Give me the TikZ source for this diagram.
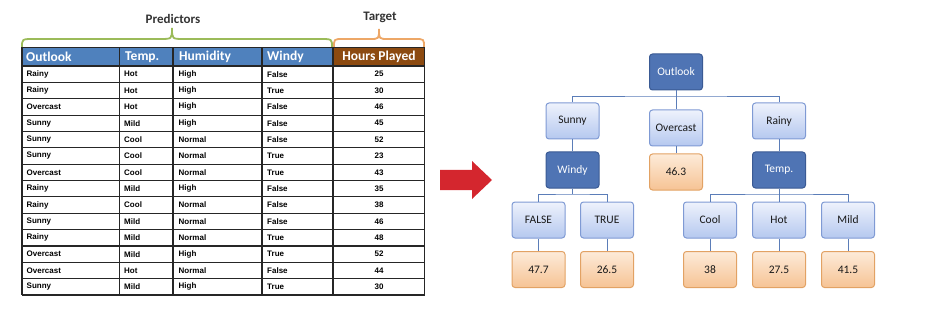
\documentclass[tikz,border=0pt]{standalone}
\usepackage{fontspec}
\setmainfont{Liberation Sans}
\newfontfamily\calib{Carlito}
\usetikzlibrary{positioning}
\definecolor{hdrblue}{HTML}{4F81BD}
\definecolor{hdrbrown}{HTML}{8C4A10}
\definecolor{predgreen}{HTML}{9BBB59}
\definecolor{targorange}{HTML}{EDA767}
\definecolor{darkfill}{HTML}{4F74B4}
\definecolor{darkborder}{HTML}{3A5A94}
\definecolor{lighttop}{HTML}{EEF2FC}
\definecolor{lightbot}{HTML}{B5C8EF}
\definecolor{lightborder}{HTML}{7F9AD4}
\definecolor{oratop}{HTML}{FDEBD9}
\definecolor{orabot}{HTML}{F6C394}
\definecolor{oraborder}{HTML}{E2A264}
\definecolor{linkblue}{HTML}{5B7DB8}
\definecolor{arrowred}{HTML}{D4262E}
\tikzset{
  treebox/.style={rounded corners=3pt, minimum width=53pt, minimum height=36pt, inner sep=0pt, font=\calib\fontsize{11.5}{13}\selectfont, line width=1pt},
  darknode/.style={treebox, fill=darkfill, draw=darkborder, text=white},
  lightnode/.style={treebox, top color=lighttop, bottom color=lightbot, draw=lightborder, text=black!90},
  leafnode/.style={treebox, top color=oratop, bottom color=orabot, draw=oraborder, text=black!90},
  link/.style={draw=linkblue, line width=0.9pt},
  hdrtext/.style={anchor=west, inner sep=0pt, text=white, font=\calib\bfseries\fontsize{13.5}{14}\selectfont},
  celltext/.style={anchor=west, inner sep=0pt, font=\bfseries\fontsize{8}{9}\selectfont},
  numtext/.style={inner sep=0pt, font=\bfseries\fontsize{8}{9}\selectfont},
  bracelabel/.style={inner sep=0pt, text=black!80, font=\calib\bfseries\fontsize{13}{14}\selectfont},
  grid/.style={draw=black!85, line width=1.1pt}
}
\begin{document}
\begin{tikzpicture}[x=1pt,y=-1pt]
\useasboundingbox (0,0) rectangle (936,315);
% ---------- braces and labels ----------
\node[bracelabel] (predlab) at (173,19) {Predictors};
\node[bracelabel] (targlab) at (380,17) {Target};
\draw[predgreen, line width=1.8pt] (22,47) .. controls (22,39) .. (34,39) -- (160,39) .. controls (172,39) .. (172,28) .. controls (172,39) .. (184,39) -- (320,39) .. controls (332,39) .. (332,47);
\draw[targorange, line width=1.8pt] (334,47) .. controls (334,39) .. (343,39) -- (370,39) .. controls (379,39) .. (379,29) .. controls (379,39) .. (388,39) -- (415,39) .. controls (424,39) .. (424,47);
% ---------- table header ----------
\fill[hdrblue] (22,47.5) rectangle (333,66);
\fill[hdrbrown] (333,47.5) rectangle (424.5,66);
\node[hdrtext] (h1) at (26,57) {Outlook};
\node[hdrtext] (h2) at (125,57) {Temp.};
\node[hdrtext] (h3) at (179,57) {Humidity};
\node[hdrtext] (h4) at (267,57) {Windy};
\node[hdrtext, anchor=center] (h5) at (379,57) {Hours Played};
% ---------- table grid ----------
\foreach \xx in {22,119.5,173,262,333,424.5} {
  \draw[grid] (\xx,47.5) -- (\xx,295);
}
\draw[grid] (22,47.5) -- (424.5,47.5);
\foreach \r in {0,...,14} {
  \draw[grid] (22,66+16.36*\r) -- (424.5,66+16.36*\r);
}
% ---------- table data ----------
\foreach \o/\t/\h/\w/\n [count=\r from 0] in {
  Rainy/Hot/High/False/25,
  Rainy/Hot/High/True/30,
  Overcast/Hot/High/False/46,
  Sunny/Mild/High/False/45,
  Sunny/Cool/Normal/False/52,
  Sunny/Cool/Normal/True/23,
  Overcast/Cool/Normal/True/43,
  Rainy/Mild/High/False/35,
  Rainy/Cool/Normal/False/38,
  Sunny/Mild/Normal/False/46,
  Rainy/Mild/Normal/True/48,
  Overcast/Mild/High/True/52,
  Overcast/Hot/Normal/False/44,
  Sunny/Mild/High/True/30} {
  \pgfmathsetmacro\yy{66+16.36*(\r+0.5)}
  \node[celltext] (d\r a) at (26.5,\yy) {\o};
  \node[celltext] (d\r b) at (124,\yy) {\t};
  \node[celltext] (d\r c) at (178.5,\yy) {\h};
  \node[celltext] (d\r d) at (267,\yy) {\w};
  \node[numtext] (d\r e) at (379,\yy) {\n};
}
% ---------- red arrow ----------
\fill[arrowred] (440,170) -- (472,170) -- (472,161) -- (492,180) -- (472,199) -- (472,190) -- (440,190) -- cycle;
% ---------- tree ----------
\node[darknode] (outlook) at (676,72) {Outlook};
\node[lightnode] (sunny) at (572.5,121) {Sunny};
\node[lightnode] (overcast) at (676,128) {Overcast};
\node[lightnode] (rainy) at (779,121) {Rainy};
\node[darknode] (windy) at (572.5,170) {Windy};
\node[leafnode] (v463) at (676,172) {46.3};
\node[darknode] (temp) at (779,170) {Temp.};
\node[lightnode] (false) at (538.5,220) {FALSE};
\node[lightnode] (true) at (607,220) {TRUE};
\node[lightnode] (cool) at (710,220) {Cool};
\node[lightnode] (hot) at (779,220) {Hot};
\node[lightnode] (mild) at (848,220) {Mild};
\node[leafnode] (v477) at (538.5,269.5) {47.7};
\node[leafnode] (v265) at (607,269.5) {26.5};
\node[leafnode] (v38) at (710,269.5) {38};
\node[leafnode] (v275) at (779,269.5) {27.5};
\node[leafnode] (v415) at (848,269.5) {41.5};
% connectors
\coordinate (b1) at (676,96);
\coordinate (b2) at (572.5,194);
\coordinate (b3) at (779,194);
\draw[link] (outlook.south) -- (b1);
\draw[link] (sunny.north) |- (b1) -| (rainy.north);
\draw[link] (b1) -- (overcast.north);
\draw[link] (sunny.south) -- (windy.north);
\draw[link] (overcast.south) -- (v463.north);
\draw[link] (rainy.south) -- (temp.north);
\draw[link] (windy.south) -- (b2);
\draw[link] (false.north) |- (b2) -| (true.north);
\draw[link] (temp.south) -- (hot.north);
\draw[link] (cool.north) |- (b3) -| (mild.north);
\draw[link] (false.south) -- (v477.north);
\draw[link] (true.south) -- (v265.north);
\draw[link] (cool.south) -- (v38.north);
\draw[link] (hot.south) -- (v275.north);
\draw[link] (mild.south) -- (v415.north);
\end{tikzpicture}
\end{document}
